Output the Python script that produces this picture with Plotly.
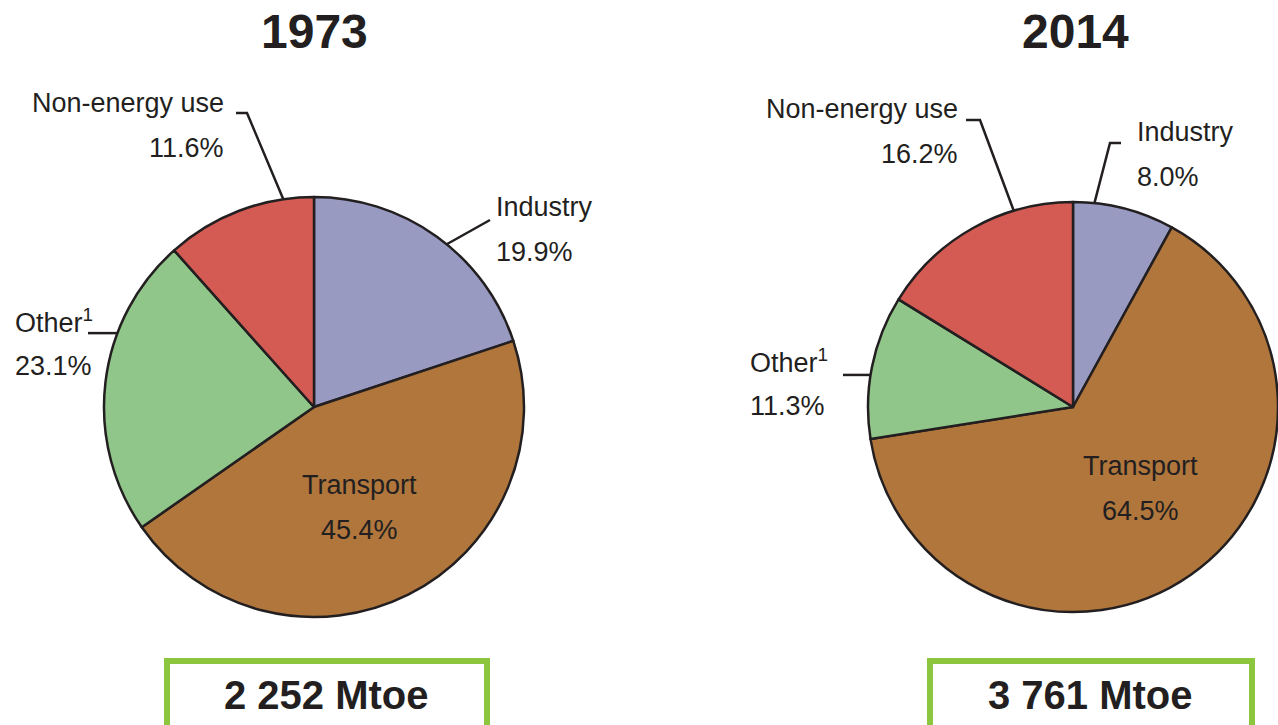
import math
import plotly.graph_objects as go

W, H = 1278, 725

sectors = ["Industry", "Transport", "Other", "Non-energy use"]
share_1973 = [19.9, 45.4, 23.1, 11.6]
share_2014 = [8.0, 64.5, 11.3, 16.2]
totals = ["2 252 Mtoe", "3 761 Mtoe"]
years = ["1973", "2014"]

colors = ["#989AC1", "#B0763C", "#91C68A", "#D35B53"]
ink = "#231F20"
font = "Liberation Sans, Arial, Helvetica, sans-serif"


def px(x, y):
    return x / W, 1 - y / H


def name_text(name):
    return "Other<sup>1</sup>" if name == "Other" else name


# pie boxes in pixels: (left, top, right, bottom); label pos = (x, y of first line)
pies = [
    dict(box=(104, 197, 524, 617), values=share_1973, title_x=314, total_x=326,
         frame=(167, 661, 487, 740),
         labels={
             "Industry": dict(pos=(494, 207), anchor="left", lead=[(490, 220)], ang=39.2),
             "Transport": dict(pos=(359, 485), anchor="center"),
             "Other": dict(pos=(13, 321), anchor="left", lead=[(88, None)], ang=290.6),
             "Non-energy use": dict(pos=(226, 103), anchor="right",
                                    lead=[(236, 113), (247, 113)], ang=351.6),
         }),
    dict(box=(868, 197, 1278, 617), values=share_2014, title_x=1075, total_x=1090,
         frame=(930, 661, 1252, 740),
         labels={
             "Industry": dict(pos=(1135, 132), anchor="left",
                              lead=[(1121, 143), (1110, 143)], ang=6.0),
             "Transport": dict(pos=(1140, 466), anchor="center"),
             "Other": dict(pos=(748, 361), anchor="left", lead=[(843, None)], ang=279.0),
             "Non-energy use": dict(pos=(960, 109), anchor="right",
                                    lead=[(966, 120), (980, 120)], ang=343.2),
         }),
]
line_gap = 45

fig = go.Figure()
annotations = []
shapes = []

for i, p in enumerate(pies):
    x0, y0, x1, y1 = p["box"]
    dx0, dy1 = px(x0, y0)
    dx1, dy0 = px(x1, y1)
    fig.add_trace(go.Pie(
        labels=sectors, values=p["values"], sort=False, direction="clockwise",
        rotation=0, textinfo="none", hoverinfo="label+percent",
        marker=dict(colors=colors, line=dict(color=ink, width=2.5)),
        domain=dict(x=[dx0, dx1], y=[dy0, dy1]), showlegend=False,
    ))
    cx, cy = (x0 + x1) / 2, (y0 + y1) / 2
    r = min(x1 - x0, y1 - y0) / 2

    for name, val in zip(sectors, p["values"]):
        lab = p["labels"][name]
        lx, ly = lab["pos"]
        for k, txt in enumerate([name_text(name), f"{val:.1f}%"]):
            ax, ay = px(lx, ly + k * line_gap)
            annotations.append(dict(
                x=ax, y=ay, xref="paper", yref="paper", text=txt,
                xanchor=lab["anchor"], yanchor="middle", align=lab["anchor"],
                showarrow=False, font=dict(family=font, size=27, color=ink),
            ))
        if "lead" in lab:
            t = math.radians(lab["ang"])
            ex, ey = cx + r * math.sin(t), cy - r * math.cos(t)
            pts = [(x, ey if y is None else y) for x, y in lab["lead"]] + [(ex, ey)]
            path = "M " + " L ".join(f"{px(x, y)[0]:.5f},{px(x, y)[1]:.5f}" for x, y in pts)
            shapes.append(dict(type="path", xref="paper", yref="paper", path=path,
                               line=dict(color=ink, width=2.5)))

    tx, ty = px(p["title_x"], 31)
    annotations.append(dict(x=tx, y=ty, xref="paper", yref="paper", text=f"<b>{years[i]}</b>",
                            showarrow=False, xanchor="center", yanchor="middle",
                            font=dict(family=font, size=48, color=ink)))

    fx0, fy0, fx1, fy1 = p["frame"]
    a0, b1 = px(fx0, fy0)
    a1, b0 = px(fx1, fy1)
    shapes.append(dict(type="rect", xref="paper", yref="paper", x0=a0, x1=a1, y0=b0, y1=b1,
                       line=dict(color="#8CC63F", width=6), fillcolor="rgba(0,0,0,0)"))
    bx, by = px(p["total_x"], 695)
    annotations.append(dict(x=bx, y=by, xref="paper", yref="paper", text=f"<b>{totals[i]}</b>",
                            showarrow=False, xanchor="center", yanchor="middle",
                            font=dict(family=font, size=40, color=ink)))

fig.update_layout(
    width=W, height=H, margin=dict(l=0, r=0, t=0, b=0),
    paper_bgcolor="white", plot_bgcolor="white",
    annotations=annotations, shapes=shapes,
)

fig.write_html("out.html", config={"displayModeBar": False},
               post_script="document.body.style.margin='0';")
